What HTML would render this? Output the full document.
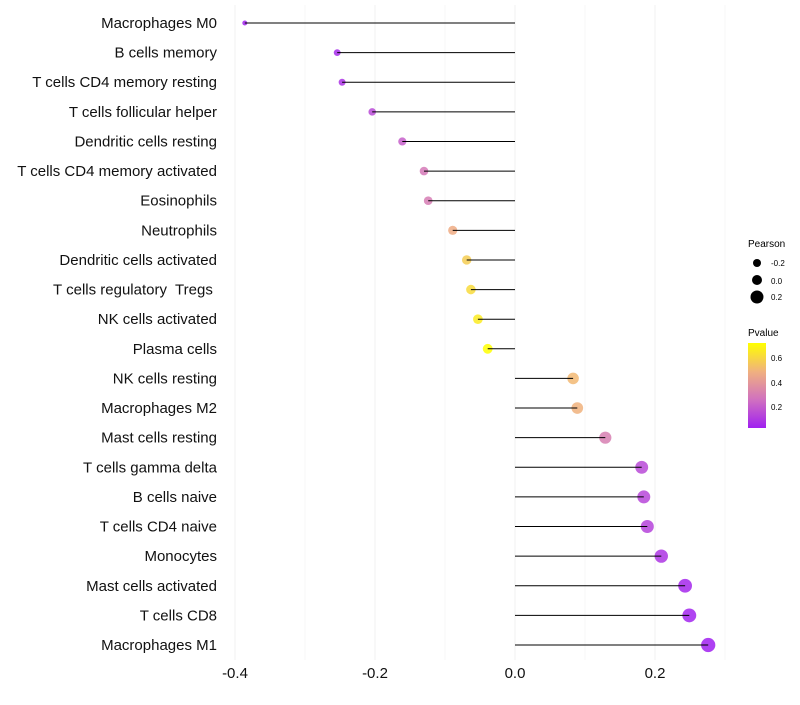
<!DOCTYPE html>
<html><head><meta charset="utf-8"><style>
body{margin:0;background:#fff;font-family:"Liberation Sans",sans-serif}
svg text{font-family:"Liberation Sans",sans-serif;white-space:pre}
</style></head><body>
<svg id="chart" width="800" height="700">
<defs><linearGradient id="pg" x1="0" y1="1" x2="0" y2="0">
<stop offset="0" stop-color="#A020F0"/><stop offset="0.33" stop-color="#D070C0"/><stop offset="0.66" stop-color="#F0B080"/><stop offset="1" stop-color="#FFFF00"/></linearGradient></defs>
<g id="grid"></g><g id="marks"></g><g id="labels"></g><g id="ticks"></g>
<g>
<text x="748" y="247" font-size="10">Pearson</text>
<circle cx="757" cy="263" r="4" fill="#000"/><text x="771" y="266" font-size="8">-0.2</text>
<circle cx="757" cy="280" r="5" fill="#000"/><text x="771" y="284" font-size="8">0.0</text>
<circle cx="757" cy="297" r="6.5" fill="#000"/><text x="771" y="300" font-size="8">0.2</text>
</g>
<g>
<text x="748" y="336" font-size="10">Pvalue</text>
<rect x="748" y="343" width="18" height="85" fill="url(#pg)"/>
<text x="771" y="361" font-size="8">0.6</text><text x="771" y="386" font-size="8">0.4</text><text x="771" y="410" font-size="8">0.2</text>
</g>
</svg>
<script>
const categories=["Macrophages M0","B cells memory","T cells CD4 memory resting","T cells follicular helper","Dendritic cells resting","T cells CD4 memory activated","Eosinophils","Neutrophils","Dendritic cells activated","T cells regulatory  Tregs ","NK cells activated","Plasma cells","NK cells resting","Macrophages M2","Mast cells resting","T cells gamma delta","B cells naive","T cells CD4 naive","Monocytes","Mast cells activated","T cells CD8","Macrophages M1"];
const pearson=[-0.386,-0.254,-0.247,-0.204,-0.161,-0.130,-0.124,-0.089,-0.069,-0.063,-0.053,-0.039,0.083,0.089,0.129,0.181,0.184,0.189,0.209,0.243,0.249,0.276];
const pvalue=[0.03,0.05,0.07,0.14,0.2,0.28,0.29,0.46,0.56,0.6,0.65,0.71,0.5,0.48,0.3,0.14,0.13,0.12,0.08,0.04,0.03,0.02];
const tickValues=[-0.4,-0.2,0.0,0.2];
const tickLabels=["-0.4","-0.2","0.0","0.2"];
const gridValues=[-0.4,-0.3,-0.2,-0.1,0,0.1,0.2,0.3];
const NS="http://www.w3.org/2000/svg";
const x=v=>515+700*v;
const y=i=>23+i*(622/21);
function col(p){const t=Math.max(0,Math.min(1,(p-0.02)/0.69));
const st=[[0,[160,32,240]],[0.33,[208,112,192]],[0.66,[240,176,128]],[1,[255,255,0]]];
for(let k=0;k<3;k++){const[a,ca]=st[k],[b,cb]=st[k+1];if(t<=b){const u=(t-a)/(b-a);return`rgb(${ca.map((c,j)=>Math.round(c+(cb[j]-c)*u)).join(",")})`;}}return"rgb(255,255,0)";}
function mk(tag,at,parent){const e=document.createElementNS(NS,tag);for(const k in at)e.setAttribute(k,at[k]);document.getElementById(parent).appendChild(e);return e;}
gridValues.forEach((v,i)=>{const l=mk("line",{x1:x(v),x2:x(v),y1:5,y2:660,stroke:i%2===0?"#f0f0f0":"#f7f7f7","stroke-width":1},"grid");

});
categories.forEach((c,i)=>{
const cy=y(i);
const r=Math.max(1.5,5.2+7*pearson[i]);
const d=mk("circle",{cx:x(pearson[i]),cy:cy,r:r,fill:col(pvalue[i]),"fill-opacity":0.85},"marks");


const l=mk("line",{x1:x(0),x2:x(pearson[i]),y1:cy,y2:cy,stroke:"#000","stroke-width":1},"marks");


const t=mk("text",{x:217,y:cy+5,"text-anchor":"end","font-size":15,fill:"#111"},"labels");
t.textContent=c;


});
tickValues.forEach((v,i)=>{const t=mk("text",{x:x(v),y:678,"text-anchor":"middle","font-size":15,fill:"#111"},"ticks");
t.textContent=tickLabels[i];

});
</script>
</body></html>
